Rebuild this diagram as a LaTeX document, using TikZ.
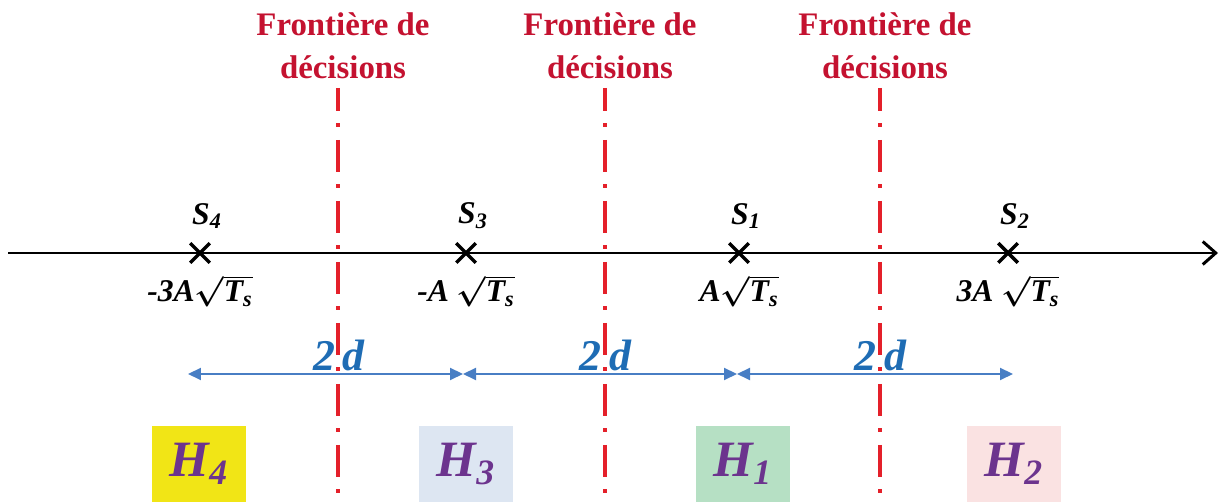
\documentclass[tikz,border=0pt]{standalone}
\usepackage{amsmath,amssymb}
\usepackage{fontspec}
\setmainfont{Liberation Serif}
\usepackage{xcolor}
\usepackage{tikz}
\usetikzlibrary{positioning,arrows.meta,shapes.misc}

\definecolor{frred}{RGB}{196,18,48}
\definecolor{lnred}{RGB}{228,32,42}
\definecolor{spblue}{RGB}{72,126,196}
\definecolor{dblue}{RGB}{30,108,180}
\definecolor{hviolet}{RGB}{108,52,142}
\definecolor{hyellow}{RGB}{241,229,22}
\definecolor{hlblue}{RGB}{221,230,242}
\definecolor{hgreen}{RGB}{182,224,196}
\definecolor{hpink}{RGB}{250,226,226}

\newcommand{\rac}[1]{$\boldsymbol{\sqrt{\text{#1}}}$}

\begin{document}
\begin{tikzpicture}[
  x=0.02cm, y=-0.02cm,
  axis/.style={draw=black, line width=1.7pt, -{Straight Barb[length=2.6mm, width=4.6mm, line width=1.7pt]}},
  pt/.style={cross out, draw=black, line width=2pt, minimum size=3.2mm, inner sep=0pt},
  slbl/.style={font=\fontsize{18}{20}\selectfont\bfseries\itshape, inner sep=1pt},
  vlbl/.style={font=\fontsize{18}{20}\selectfont\bfseries\itshape, inner sep=1pt},
  front/.style={text=frred, font=\fontsize{18.7}{24}\selectfont\bfseries, align=center, inner sep=1pt},
  bound/.style={draw=lnred, line width=2.3pt, dash pattern=on 6.4mm off 2.5mm on 0.8mm off 2.5mm, dash phase=1.8mm},
  span/.style={draw=spblue, line width=1.2pt, {Triangle[length=2.6mm, width=2.4mm]}-{Triangle[length=2.6mm, width=2.4mm]}},
  dlbl/.style={text=dblue, font=\fontsize{25}{28}\selectfont\bfseries\itshape, inner sep=1pt},
  hbox/.style={minimum width=1.88cm, minimum height=1.52cm, inner sep=0pt, text=hviolet, font=\fontsize{29}{32}\selectfont\bfseries\itshape}
]
\useasboundingbox (0,0) rectangle (1221,502);

% axe des symboles
\coordinate (axl) at (8,253);
\coordinate (axr) at (1218,253);
\draw[axis] (axl) -- (axr);

\node[pt] (s4) at (200,253) {};
\node[pt] (s3) at (466,253) {};
\node[pt] (s1) at (739,253) {};
\node[pt] (s2) at (1008,253) {};

\node[slbl, above=2.5mm of s4, xshift=1.4mm] (s4l) {S\textsubscript{4}};
\node[slbl, above=2.5mm of s3, xshift=1.4mm] (s3l) {S\textsubscript{3}};
\node[slbl, above=2.5mm of s1, xshift=1.4mm] (s1l) {S\textsubscript{1}};
\node[slbl, above=2.5mm of s2, xshift=1.4mm] (s2l) {S\textsubscript{2}};

\node[vlbl, below=2mm of s4] (v4) {-3A\rac{T\textsubscript{s}}};
\node[vlbl, below=2mm of s3] (v3) {-A \rac{T\textsubscript{s}}};
\node[vlbl, below=2mm of s1] (v1) {A\rac{T\textsubscript{s}}};
\node[vlbl, below=2mm of s2] (v2) {3A \rac{T\textsubscript{s}}};

% distances 2d
\coordinate (a0) at (188,374);
\coordinate (a1) at (463,374);
\coordinate (a2) at (737,374);
\coordinate (a3) at (1013,374);
\draw[span] (a0) -- node[dlbl, above=0mm, pos=0.55] {2\,d} (a1);
\draw[span] (a1) -- node[dlbl, above=0mm, pos=0.52] {2\,d} (a2);
\draw[span] (a2) -- node[dlbl, above=0mm, pos=0.52] {2\,d} (a3);

% regions de decision
\node[hbox, fill=hyellow] (h4) at (199,464) {H\textsubscript{4}};
\node[hbox, fill=hlblue] (h3) at (466,464) {H\textsubscript{3}};
\node[hbox, fill=hgreen] (h1) at (743,464) {H\textsubscript{1}};
\node[hbox, fill=hpink] (h2) at (1014,464) {H\textsubscript{2}};

% frontieres
\coordinate (b1t) at (338,88);
\coordinate (b1b) at (338,502);
\coordinate (b2t) at (605,88);
\coordinate (b2b) at (605,502);
\coordinate (b3t) at (880,88);
\coordinate (b3b) at (880,502);
\draw[bound] (b1t) -- (b1b);
\draw[bound] (b2t) -- (b2b);
\draw[bound] (b3t) -- (b3b);
\node[front, above=1.5mm of b1t, xshift=1mm] (f1) {Frontière de\\décisions};
\node[front, above=1.5mm of b2t, xshift=1mm] (f2) {Frontière de\\décisions};
\node[front, above=1.5mm of b3t, xshift=1mm] (f3) {Frontière de\\décisions};
\end{tikzpicture}
\end{document}
